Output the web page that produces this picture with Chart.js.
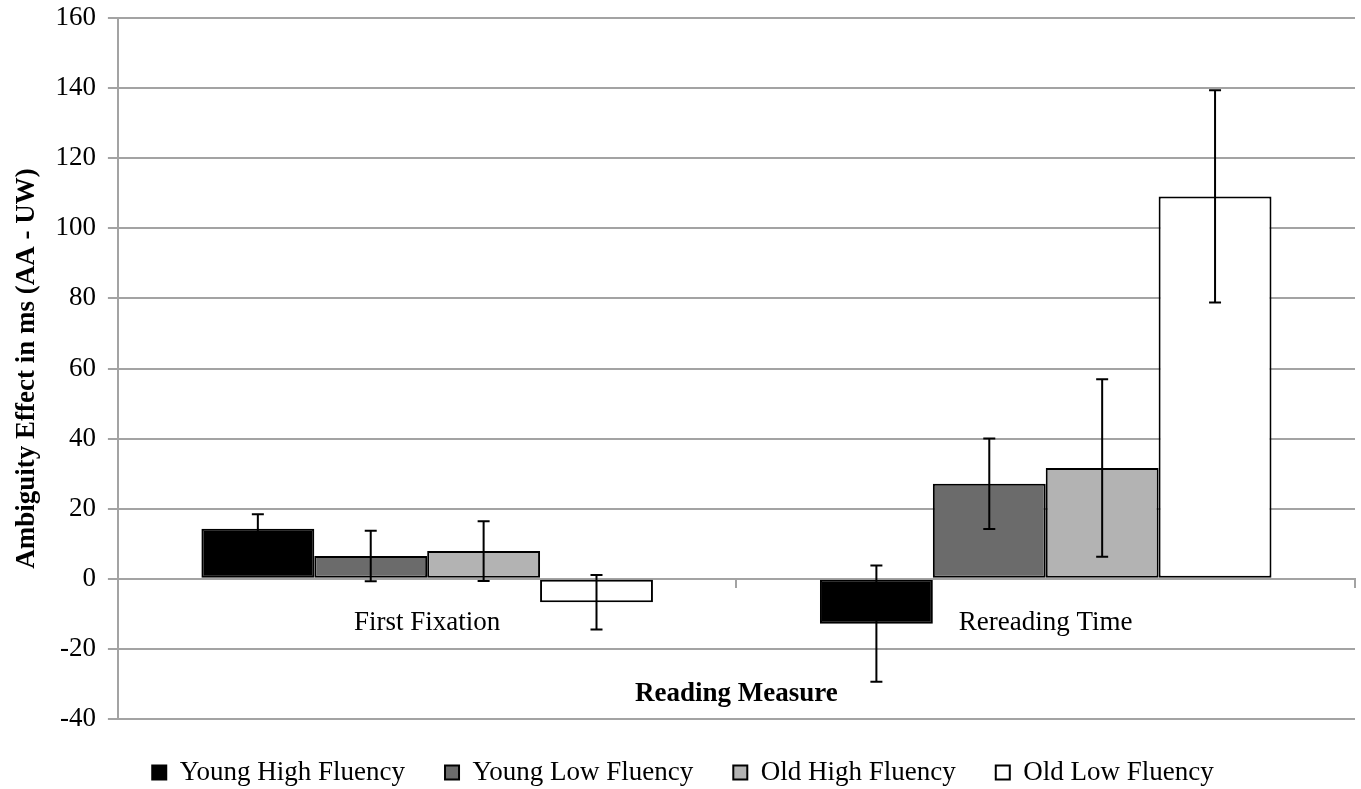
<!DOCTYPE html>
<html>
<head>
<meta charset="utf-8">
<script src="https://cdn.jsdelivr.net/npm/chart.js@4.4.0/dist/chart.umd.min.js"></script>
<style>
  html, body { margin: 0; padding: 0; background: #fff; }
  #wrap { width: 1361px; height: 789px; }
</style>
</head>
<body>
<div id="wrap"><canvas id="chart"></canvas></div>
<script>
const categories = ["First Fixation", "Rereading Time"];

const youngHigh = [14.3, -12.8];
const youngLow = [6.5, 27.1];
const oldHigh = [7.9, 31.6];
const oldLow = [-6.7, 109.1];

// error bar half-widths, same order as the series
const youngHighErr = [4.1, 16.6];
const youngLowErr = [7.2, 12.9];
const oldHighErr = [8.5, 25.3];
const oldLowErr = [7.8, 30.3];

const seriesNames = ["Young High Fluency", "Young Low Fluency", "Old High Fluency", "Old Low Fluency"];
const fills = ["#000000", "#6b6b6b", "#b3b3b3", "#ffffff"];

const font = "'Liberation Serif', 'Times New Roman', serif";
const gridColor = "#a3a3a3";

const errorBars = {
  id: "errorBars",
  afterDatasetsDraw(chart) {
    const ctx = chart.ctx;
    const y = chart.scales.y;
    ctx.save();
    ctx.strokeStyle = "#000";
    ctx.lineWidth = 2;
    chart.data.datasets.forEach((ds, i) => {
      const meta = chart.getDatasetMeta(i);
      meta.data.forEach((bar, j) => {
        const v = ds.data[j];
        const e = ds.errors[j];
        const top = y.getPixelForValue(v + e);
        const bottom = y.getPixelForValue(v - e);
        ctx.beginPath();
        ctx.moveTo(bar.x, top);
        ctx.lineTo(bar.x, bottom);
        ctx.moveTo(bar.x - 6, top);
        ctx.lineTo(bar.x + 6, top);
        ctx.moveTo(bar.x - 6, bottom);
        ctx.lineTo(bar.x + 6, bottom);
        ctx.stroke();
      });
    });
    ctx.restore();
  }
};

const values = [youngHigh, youngLow, oldHigh, oldLow];
const errs = [youngHighErr, youngLowErr, oldHighErr, oldLowErr];

const datasets = seriesNames.map((name, i) => ({
  label: name,
  data: values[i],
  errors: errs[i],
  backgroundColor: fills[i],
  borderColor: "#000",
  borderWidth: 2,
  borderSkipped: false,
  categoryPercentage: 0.73,
  barPercentage: 1.0
}));

new Chart(document.getElementById("chart"), {
  type: "bar",
  data: { labels: categories, datasets: datasets },
  plugins: [errorBars],
  options: {
    responsive: true,
    maintainAspectRatio: false,
    animation: false,
    layout: { padding: { left: 11, right: 6, top: 0, bottom: 0 } },
    plugins: {
      tooltip: { enabled: false },
      legend: {
        position: "bottom",
        maxHeight: 70,
        labels: {
          color: "#000",
          font: { family: font, size: 27 },
          boxWidth: 14,
          boxHeight: 14,
          padding: 40
        }
      }
    },
    scales: {
      x: {
        position: { y: 0 },
        grid: { drawOnChartArea: false, drawTicks: true, tickLength: 8, color: gridColor, lineWidth: 2 },
        border: { color: gridColor, width: 2 },
        ticks: { color: "#000", font: { family: font, size: 27 }, padding: 20 },
        title: {
          display: true,
          text: "Reading Measure",
          color: "#000",
          font: { family: font, size: 27, weight: "bold" },
          padding: { top: 19 }
        }
      },
      y: {
        min: -40,
        max: 160,
        ticks: { stepSize: 20, color: "#000", font: { family: font, size: 27 }, padding: 12 },
        grid: { color: gridColor, lineWidth: 2, tickLength: 10 },
        border: { color: gridColor, width: 2 },
        title: {
          display: true,
          text: "Ambiguity Effect in ms (AA - UW)",
          color: "#000",
          font: { family: font, size: 27, weight: "bold" },
          padding: { top: 0, bottom: 0 }
        },
        afterFit(scale) {
          scale.paddingTop = 18;
          scale.paddingBottom = 16;
        }
      }
    }
  }
});
</script>
</body>
</html>
